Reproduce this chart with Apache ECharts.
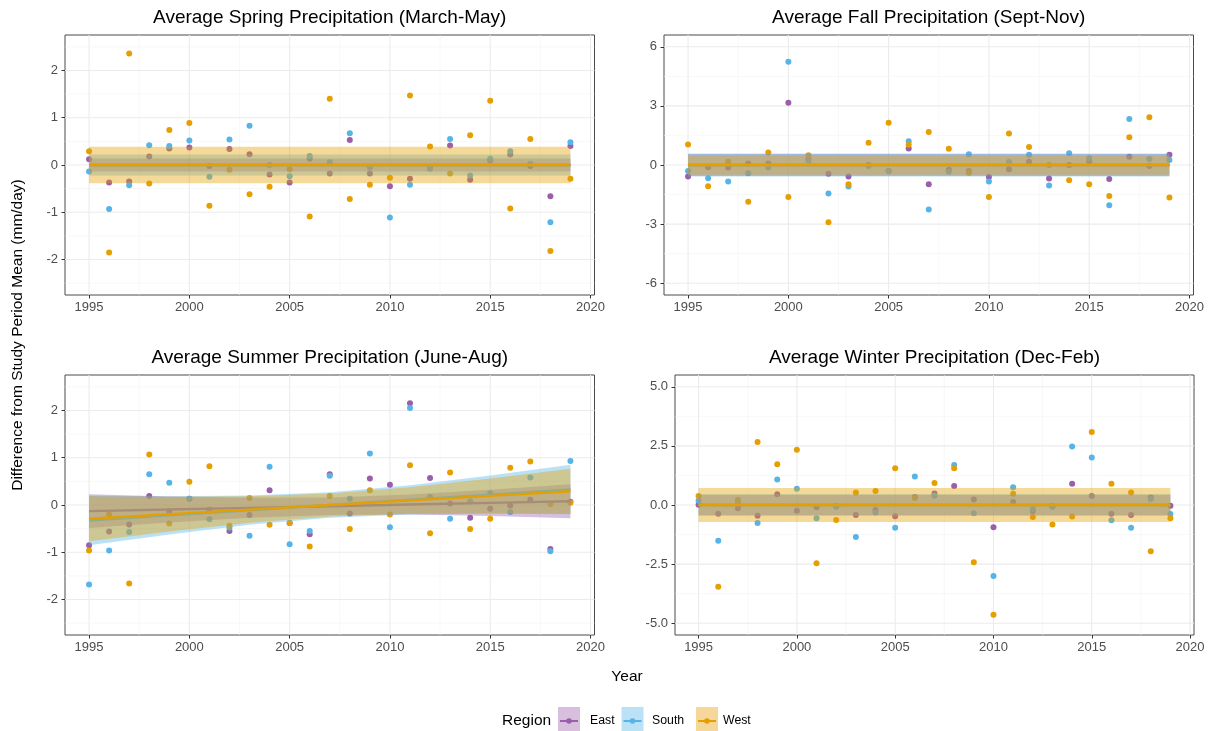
<!DOCTYPE html>
<html>
<head>
<meta charset="utf-8">
<script src="https://cdn.jsdelivr.net/npm/echarts@6/dist/echarts.min.js"></script>
<style>
  html, body { margin: 0; padding: 0; background: #ffffff; }
  #chart { width: 1211px; height: 731px; }
</style>
</head>
<body>
<div id="chart"></div>
<script>
// ---------- data ----------
const years = [1995, 1996, 1997, 1998, 1999, 2000, 2001, 2002, 2003, 2004, 2005, 2006, 2007,
               2008, 2009, 2010, 2011, 2012, 2013, 2014, 2015, 2016, 2017, 2018, 2019];
const regions = ['East', 'South', 'West'];

// Spring (March-May) anomalies, mm/day
const springEast  = [0.12, -0.37, -0.35, 0.18, 0.35, 0.37, -0.02, 0.34, 0.23, -0.20, -0.37, 0.13, -0.18,
                     0.53, -0.18, -0.45, -0.29, -0.05, 0.41, -0.31, 0.10, 0.22, -0.02, -0.66, 0.40];
const springSouth = [-0.14, -0.93, -0.43, 0.42, 0.40, 0.52, -0.25, 0.54, 0.83, 0.00, -0.24, 0.19, 0.06,
                     0.67, -0.05, -1.11, -0.42, -0.08, 0.55, -0.22, 0.13, 0.29, 0.02, -1.21, 0.48];
const springWest  = [0.29, -1.85, 2.36, -0.39, 0.74, 0.89, -0.86, -0.10, -0.62, -0.46, -0.09, -1.09, 1.40,
                     -0.72, -0.42, -0.27, 1.47, 0.39, -0.18, 0.63, 1.36, -0.92, 0.55, -1.82, -0.29];

// Fall (Sept-Nov)
const fallEast  = [-0.59, -0.12, -0.13, 0.08, 0.08, 3.16, 0.30, -0.45, -0.59, 0.00, -0.30, 0.84, -0.98,
                   -0.24, -0.30, -0.61, -0.22, 0.17, -0.69, 0.00, 0.19, -0.71, 0.42, -0.05, 0.52];
const fallSouth = [-0.30, -0.67, -0.84, -0.42, -0.13, 5.24, 0.22, -1.45, -1.09, -0.05, -0.30, 1.20, -2.26,
                   -0.34, 0.54, -0.84, 0.15, 0.52, -1.04, 0.60, 0.34, -2.04, 2.34, 0.30, 0.25];
const fallWest  = [1.04, -1.08, 0.17, -1.87, 0.64, -1.63, 0.50, -2.91, -0.98, 1.13, 2.15, 1.03, 1.67,
                   0.82, -0.39, -1.62, 1.60, 0.91, 0.00, -0.77, -0.98, -1.57, 1.41, 2.42, -1.65];

// Summer (June-Aug)
const summerEast  = [-0.85, -0.56, -0.41, 0.19, -0.13, 0.13, -0.10, -0.55, -0.21, 0.31, -0.38, -0.62, 0.65,
                     -0.18, 0.56, 0.43, 2.15, 0.57, 0.03, -0.27, -0.08, -0.01, 0.11, -0.93, 0.07];
const summerSouth = [-1.68, -0.96, -0.57, 0.65, 0.47, 0.13, -0.30, -0.48, -0.65, 0.81, -0.83, -0.55, 0.62,
                     0.13, 1.09, -0.47, 2.05, 0.17, -0.29, 0.08, 0.25, -0.15, 0.58, -0.98, 0.93];
const summerWest  = [-0.96, -0.20, -1.66, 1.07, -0.39, 0.49, 0.82, -0.44, 0.15, -0.42, -0.38, -0.88, 0.19,
                     -0.51, 0.31, -0.20, 0.84, -0.60, 0.69, -0.51, -0.29, 0.79, 0.92, 0.02, 0.05];

// Winter (Dec-Feb)
const winterEast  = [0.01, -0.37, -0.14, -0.46, 0.46, -0.24, -0.10, -0.05, -0.42, -0.21, -0.48, 0.34, 0.49,
                     0.80, 0.23, -0.94, 0.13, -0.25, -0.05, 0.90, 0.38, -0.37, -0.42, 0.32, -0.03];
const winterSouth = [0.18, -1.51, 0.14, -0.76, 1.08, 0.69, -0.56, -0.07, -1.35, -0.32, -0.96, 1.21, 0.39,
                     1.69, -0.35, -3.00, 0.75, -0.17, -0.07, 2.48, 2.01, -0.65, -0.96, 0.25, -0.38];
const winterWest  = [0.38, -3.46, 0.21, 2.67, 1.72, 2.34, -2.46, -0.63, 0.53, 0.59, 1.55, 0.30, 0.93,
                     1.56, -2.42, -4.64, 0.48, -0.51, -0.82, -0.49, 3.09, 0.90, 0.53, -1.96, -0.56];

// Linear fits with confidence bands (East, South, West)
const flatFitYears = [1995, 2019];
const springFit = [[0, 0], [0, 0], [0, 0]];
const springLower = [[-0.14, -0.14], [-0.22, -0.22], [-0.385, -0.385]];
const springUpper = [[0.14, 0.14], [0.22, 0.22], [0.385, 0.385]];
const fallFit = [[0, 0], [0, 0], [0, 0]];
const fallLower = [[-0.56, -0.56], [-0.58, -0.58], [-0.50, -0.50]];
const fallUpper = [[0.56, 0.56], [0.58, 0.58], [0.50, 0.50]];
const winterFit = [[0, 0], [0, 0], [0, 0]];
const winterLower = [[-0.42, -0.42], [-0.47, -0.47], [-0.72, -0.72]];
const winterUpper = [[0.42, 0.42], [0.47, 0.47], [0.72, 0.72]];

const summerFitYears = [1995, 1999, 2003, 2007, 2011, 2015, 2019];
const summerFit = [
  [-0.13, -0.095, -0.06, -0.025, 0.01, 0.045, 0.08],
  [-0.33, -0.22, -0.11, 0.00, 0.11, 0.22, 0.33],
  [-0.29, -0.193, -0.097, 0.00, 0.097, 0.193, 0.29]
];
const summerLower = [
  [-0.489, -0.371, -0.271, -0.21, -0.201, -0.231, -0.279],
  [-0.854, -0.623, -0.419, -0.27, -0.199, -0.183, -0.194],
  [-0.766, -0.559, -0.377, -0.245, -0.183, -0.173, -0.186]
];
const summerUpper = [
  [0.229, 0.181, 0.151, 0.16, 0.221, 0.321, 0.439],
  [0.194, 0.183, 0.199, 0.27, 0.419, 0.623, 0.854],
  [0.186, 0.173, 0.183, 0.245, 0.377, 0.559, 0.766]
];

// Axis ticks
const xTicks = [1995, 2000, 2005, 2010, 2015, 2020];
const xMinor = [1997.5, 2002.5, 2007.5, 2012.5, 2017.5];
const springTicks = [-2, -1, 0, 1, 2];
const springMinor = [-2.5, -1.5, -0.5, 0.5, 1.5, 2.5];
const fallTicks = [-6, -3, 0, 3, 6];
const fallMinor = [-4.5, -1.5, 1.5, 4.5];
const winterTicks = [-5, -2.5, 0, 2.5, 5];
const winterMinor = [-3.75, -1.25, 1.25, 3.75];

const titles = ['Average Spring Precipitation (March-May)', 'Average Fall Precipitation (Sept-Nov)',
                'Average Summer Precipitation (June-Aug)', 'Average Winter Precipitation (Dec-Feb)'];

// ---------- styling ----------
const FONT = '"Liberation Sans", Arial, sans-serif';
const regionColors = ['#9A5EAB', '#56B4E9', '#E69F00'];
const bandFills = ['rgba(154,94,171,0.4)', 'rgba(86,180,233,0.4)', 'rgba(230,159,0,0.4)'];
const keyFills = ['#D7BFDD', '#BBE1F6', '#F5D899'];

const panels = [
  { grid: { left: 65, top: 35, width: 529.5, height: 260 }, yRange: 2.75,
    points: [springEast, springSouth, springWest], fitYears: flatFitYears,
    fit: springFit, lower: springLower, upper: springUpper,
    yTicks: springTicks, yMinor: springMinor, fmt: v => String(v) },
  { grid: { left: 664, top: 35, width: 529.5, height: 260 }, yRange: 6.6,
    points: [fallEast, fallSouth, fallWest], fitYears: flatFitYears,
    fit: fallFit, lower: fallLower, upper: fallUpper,
    yTicks: fallTicks, yMinor: fallMinor, fmt: v => String(v) },
  { grid: { left: 65, top: 375, width: 529.5, height: 260 }, yRange: 2.75,
    points: [summerEast, summerSouth, summerWest], fitYears: summerFitYears,
    fit: summerFit, lower: summerLower, upper: summerUpper,
    yTicks: springTicks, yMinor: springMinor, fmt: v => String(v) },
  { grid: { left: 675, top: 375, width: 519, height: 260 }, yRange: 5.5,
    points: [winterEast, winterSouth, winterWest], fitYears: flatFitYears,
    fit: winterFit, lower: winterLower, upper: winterUpper,
    yTicks: winterTicks, yMinor: winterMinor, fmt: v => Number(v).toFixed(1) }
];

const grids = [], xAxes = [], yAxes = [], series = [], graphics = [];

panels.forEach((p, i) => {
  grids.push(Object.assign({ show: true, borderColor: '#4a4a4a', borderWidth: 1,
                             backgroundColor: '#ffffff', containLabel: false }, p.grid));

  xAxes.push({
    gridIndex: i, type: 'value', min: 1993.8, max: 2020.2,
    axisLine: { show: false, onZero: false },
    splitLine: { show: false },
    axisTick: { show: true, customValues: xTicks, length: 3.5, lineStyle: { color: '#333333', width: 1 } },
    axisLabel: { customValues: xTicks, color: '#4d4d4d', fontSize: 13, fontFamily: FONT, margin: 6,
                 formatter: v => String(v) }
  });
  yAxes.push({
    gridIndex: i, type: 'value', min: -p.yRange, max: p.yRange,
    axisLine: { show: false, onZero: false },
    splitLine: { show: false },
    axisTick: { show: true, customValues: p.yTicks, length: 3.5, lineStyle: { color: '#333333', width: 1 } },
    axisLabel: { customValues: p.yTicks, color: '#4d4d4d', fontSize: 13, fontFamily: FONT, margin: 7,
                 formatter: p.fmt }
  });

  // grid lines (0 vertical minor, 1 vertical major, 2 horizontal minor, 3 horizontal major)
  const gl = [];
  xMinor.forEach(v => gl.push([v, 0, 0]));
  xTicks.forEach(v => gl.push([v, 0, 1]));
  p.yMinor.forEach(v => gl.push([2007, v, 2]));
  p.yTicks.forEach(v => gl.push([2007, v, 3]));
  series.push({
    type: 'custom', xAxisIndex: i, yAxisIndex: i, silent: true, z: 1, clip: true,
    data: gl,
    renderItem(params, api) {
      const cs = params.coordSys;
      const k = api.value(2);
      const pt = api.coord([api.value(0), api.value(1)]);
      const major = (k === 1 || k === 3);
      const shape = k < 2
        ? { x1: pt[0], y1: cs.y, x2: pt[0], y2: cs.y + cs.height }
        : { x1: cs.x, y1: pt[1], x2: cs.x + cs.width, y2: pt[1] };
      return { type: 'line', shape,
               style: { stroke: major ? '#EBEBEB' : '#F4F4F4', lineWidth: major ? 1.1 : 0.6 } };
    }
  });

  // points
  p.points.forEach((vals, r) => {
    series.push({
      type: 'scatter', name: regions[r], xAxisIndex: i, yAxisIndex: i, z: 2,
      symbolSize: 6, itemStyle: { color: regionColors[r], opacity: 1 },
      data: years.map((y, k) => [y, vals[k]])
    });
  });

  // confidence ribbon then fitted line, region by region
  p.fit.forEach((fitVals, r) => {
    const band = p.fitYears.map((y, k) => [y, p.lower[r][k], p.upper[r][k]]);
    series.push({
      type: 'custom', xAxisIndex: i, yAxisIndex: i, silent: true, z: 3 + r * 2,
      data: band, encode: { x: 0, y: [1, 2] },
      renderItem(params, api) {
        if (params.dataIndex !== 0) return null;
        const top = band.map(d => api.coord([d[0], d[2]]));
        const bot = band.map(d => api.coord([d[0], d[1]])).reverse();
        return { type: 'polygon', shape: { points: top.concat(bot) }, style: { fill: bandFills[r] } };
      }
    });
    series.push({
      type: 'line', xAxisIndex: i, yAxisIndex: i, silent: true, z: 4 + r * 2,
      symbol: 'none', showSymbol: false,
      lineStyle: { color: regionColors[r], width: 2.4 },
      data: p.fitYears.map((y, k) => [y, fitVals[k]])
    });
  });

  graphics.push({
    type: 'text', x: p.grid.left + p.grid.width / 2, y: p.grid.top - 17,
    style: { text: titles[i], fill: '#000000', font: '19px ' + FONT, align: 'center', verticalAlign: 'middle' }
  });
});

// shared axis titles
graphics.push({
  type: 'text', x: 18, y: 335, rotation: Math.PI / 2,
  style: { text: 'Difference from Study Period Mean (mm/day)', fill: '#000000', font: '15.5px ' + FONT,
           align: 'center', verticalAlign: 'middle' }
});
graphics.push({
  type: 'text', x: 627, y: 677,
  style: { text: 'Year', fill: '#000000', font: '15.5px ' + FONT, align: 'center', verticalAlign: 'middle' }
});

// legend
const legendY = 721;
graphics.push({
  type: 'text', x: 502, y: legendY,
  style: { text: 'Region', fill: '#000000', font: '15.5px ' + FONT, align: 'left', verticalAlign: 'middle' }
});
const keyX = [558, 621.5, 696];
const labelX = [590, 652, 723];
regions.forEach((name, r) => {
  graphics.push({ type: 'rect', shape: { x: keyX[r], y: legendY - 14, width: 22, height: 28 },
                  style: { fill: keyFills[r] } });
  graphics.push({ type: 'line', shape: { x1: keyX[r] + 2, y1: legendY, x2: keyX[r] + 20, y2: legendY },
                  style: { stroke: regionColors[r], lineWidth: 2 } });
  graphics.push({ type: 'circle', shape: { cx: keyX[r] + 11, cy: legendY, r: 2.8 },
                  style: { fill: regionColors[r] } });
  graphics.push({ type: 'text', x: labelX[r], y: legendY,
                  style: { text: name, fill: '#000000', font: '12.3px ' + FONT, align: 'left', verticalAlign: 'middle' } });
});

const chart = echarts.init(document.getElementById('chart'), null, { renderer: 'canvas' });
chart.setOption({
  animation: false,
  backgroundColor: '#ffffff',
  textStyle: { fontFamily: FONT },
  grid: grids,
  xAxis: xAxes,
  yAxis: yAxes,
  series: series,
  graphic: graphics
});
</script>
</body>
</html>
